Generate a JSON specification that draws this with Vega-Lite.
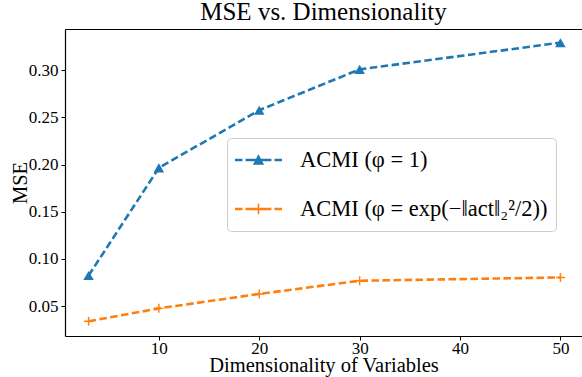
{
  "$schema": "https://vega.github.io/schema/vega-lite/v6.json",
  "width": 517,
  "height": 307,
  "autosize": {"type": "none"},
  "padding": {"left": 65, "top": 29, "right": 0, "bottom": 41},
  "background": "white",
  "config": {
    "view": {"stroke": null},
    "font": "Liberation Serif",
    "axis": {
      "labelFont": "Liberation Serif",
      "titleFont": "Liberation Serif",
      "labelColor": "black",
      "titleColor": "black",
      "domainColor": "black",
      "tickColor": "black",
      "grid": false,
      "labelFontSize": 17,
      "titleFontSize": 20.5,
      "titleFontWeight": "normal",
      "tickSize": 4,
      "domainWidth": 1.2
    },
    "legend": {
      "title": null,
      "orient": "none",
      "legendX": 162,
      "legendY": 109,
      "direction": "vertical",
      "padding": 8,
      "fillColor": "rgba(255,255,255,0.8)",
      "strokeColor": "#cccccc",
      "cornerRadius": 4,
      "labelFont": "Liberation Serif",
      "labelFontSize": 22.5,
      "labelColor": "black",
      "labelLimit": 400,
      "labelOffset": 18,
      "symbolSize": 2209,
      "symbolOpacity": 1,
      "symbolStrokeWidth": 0,
      "clipHeight": 28,
      "rowPadding": 21
    }
  },
  "title": {
    "text": "MSE vs. Dimensionality",
    "font": "Liberation Serif",
    "fontSize": 25,
    "fontWeight": "normal",
    "color": "black",
    "anchor": "middle",
    "baseline": "alphabetic",
    "offset": 5,
    "dy": 21
  },
  "data": {
    "values": [
      {"dim": 3, "mse": 0.0823, "series": "ACMI (φ = 1)"},
      {"dim": 10, "mse": 0.1965, "series": "ACMI (φ = 1)"},
      {"dim": 20, "mse": 0.2577, "series": "ACMI (φ = 1)"},
      {"dim": 30, "mse": 0.301, "series": "ACMI (φ = 1)"},
      {"dim": 50, "mse": 0.3293, "series": "ACMI (φ = 1)"},
      {"dim": 3, "mse": 0.0338, "series": "ACMI (φ = exp(−‖act‖₂²/2))"},
      {"dim": 10, "mse": 0.0475, "series": "ACMI (φ = exp(−‖act‖₂²/2))"},
      {"dim": 20, "mse": 0.0628, "series": "ACMI (φ = exp(−‖act‖₂²/2))"},
      {"dim": 30, "mse": 0.0768, "series": "ACMI (φ = exp(−‖act‖₂²/2))"},
      {"dim": 50, "mse": 0.0803, "series": "ACMI (φ = exp(−‖act‖₂²/2))"}
    ]
  },
  "resolve": {"axis": {"x": "independent", "y": "independent"}},
  "layer": [
    {
      "mark": {"type": "line", "strokeWidth": 2.6, "strokeDash": [7.5, 3.5]},
      "encoding": {
        "x": {
          "field": "dim", "type": "quantitative",
          "scale": {"domain": [0.65, 52.15], "nice": false, "zero": false},
          "axis": {"orient": "bottom", "values": [10, 20, 30, 40, 50], "title": "Dimensionality of Variables", "titleBaseline": "alphabetic", "titleY": 35, "labelPadding": 0}
        },
        "y": {
          "field": "mse", "type": "quantitative",
          "scale": {"domain": [0.0182, 0.3438], "nice": false, "zero": false},
          "axis": {"values": [0.05, 0.1, 0.15, 0.2, 0.25, 0.3], "format": ".2f", "title": "MSE", "titleBaseline": "middle", "titleX": -45, "labelPadding": 3}
        },
        "color": {
          "field": "series", "type": "nominal",
          "scale": {"domain": ["ACMI (φ = 1)", "ACMI (φ = exp(−‖act‖₂²/2))"], "range": ["#1f77b4", "#ff7f0e"]},
          "legend": {
            "encode": {
              "symbols": {
                "update": {
                  "fill": {"signal": "scale('color', datum.value)"},
                  "strokeWidth": {"value": 0},
                  "shape": {"signal": "datum.value === 'ACMI (φ = 1)' ? 'M-1,-0.05H-0.68V0.05H-1Z M-0.55,-0.05H-0.23V0.05H-0.55Z M0.23,-0.05H0.55V0.05H0.23Z M0.68,-0.05H1V0.05H0.68Z M0,-0.24L0.24,0.2L-0.24,0.2Z M-0.23,-0.05H0.23V0.05H-0.23Z' : 'M-1,-0.05H-0.68V0.05H-1Z M-0.55,-0.05H-0.23V0.05H-0.55Z M0.23,-0.05H0.55V0.05H0.23Z M0.68,-0.05H1V0.05H0.68Z M-0.23,-0.05H0.23V0.05H-0.23Z M-0.035,-0.22H0.035V0.22H-0.035Z'"}
                }
              }
            }
          }
        }
      }
    },
    {
      "transform": [{"filter": "datum.series === 'ACMI (φ = 1)'"}],
      "mark": {"type": "point", "filled": true, "opacity": 1, "shape": "triangle-up", "size": 110},
      "encoding": {
        "x": {
          "field": "dim", "type": "quantitative",
          "axis": {"orient": "top", "labels": false, "ticks": false, "title": null, "domainColor": "black"}
        },
        "y": {"field": "mse", "type": "quantitative", "axis": null},
        "color": {"field": "series", "type": "nominal", "legend": null}
      }
    },
    {
      "transform": [{"filter": "datum.series !== 'ACMI (φ = 1)'"}],
      "mark": {"type": "point", "filled": true, "opacity": 1, "shape": "M-1,-0.16H-0.16V-1H0.16V-0.16H1V0.16H0.16V1H-0.16V0.16H-1Z", "size": 81},
      "encoding": {
        "x": {"field": "dim", "type": "quantitative", "axis": null},
        "y": {"field": "mse", "type": "quantitative", "axis": null},
        "color": {"field": "series", "type": "nominal", "legend": null}
      }
    }
  ]
}
